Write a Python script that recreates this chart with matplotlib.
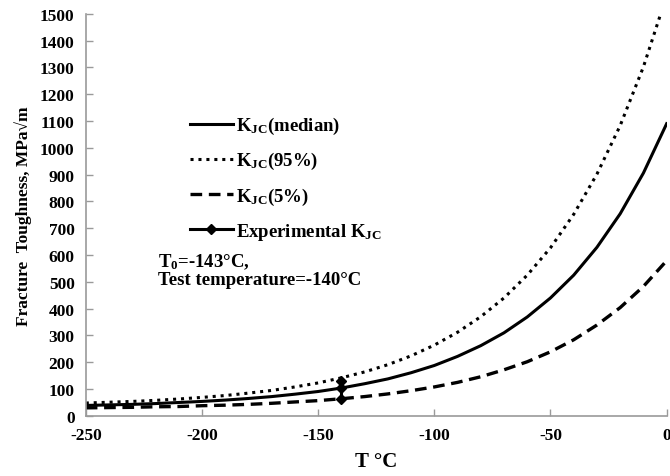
import matplotlib.pyplot as plt

plt.rcParams['font.family'] = ['Liberation Serif', 'DejaVu Serif']
plt.rcParams['font.weight'] = 'bold'
plt.rcParams['axes.unicode_minus'] = False
plt.rcParams['mathtext.fontset'] = 'custom'
plt.rcParams['mathtext.rm'] = 'Liberation Serif:bold'
plt.rcParams['mathtext.bf'] = 'Liberation Serif:bold'
plt.rcParams['mathtext.it'] = 'Liberation Serif:bold'

# temperatures (deg C) and values
temp = [-250, -240, -230, -220, -210, -200, -190, -180, -170, -160, -150, -140, -130,
        -120, -110, -100, -90, -80, -70, -60, -50, -40, -30, -20, -10, 0]
k_median = [39, 41, 43, 46, 50, 54, 59, 65, 72, 81, 91, 104, 120,
            138, 161, 188, 222, 262, 310, 369, 440, 525, 629, 754, 906, 1090]
k_95 = [48, 51, 54, 58, 63, 69, 76, 85, 95, 108, 123, 142, 164,
        191, 224, 264, 312, 370, 440, 525, 627, 752, 902, 1083, 1302, 1568]
k_5 = [30, 31, 32, 34, 35, 38, 40, 43, 47, 52, 57, 64, 72,
       82, 94, 108, 125, 146, 172, 202, 239, 284, 339, 404, 483, 579]

exp_temp = [-140, -140, -140]
exp_k = [63, 103, 130]

fig = plt.figure(figsize=(6.7, 4.77), dpi=100)
ax = fig.add_axes([0.128, 0.126, 0.867, 0.843])

ax.plot(temp, k_median, color='black', linewidth=2.2, label=r'K$_{\mathbf{JC}}$(median)')
ax.plot(temp, k_95, color='black', linewidth=2.2, linestyle=(0, (1, 1.6)),
        label=r'K$_{\mathbf{JC}}$(95%)')
ax.plot(temp, k_5, color='black', linewidth=2.4, linestyle=(0, (3.5, 2)),
        label=r'K$_{\mathbf{JC}}$(5%)')
ax.plot(exp_temp, exp_k, color='black', linewidth=2.2, marker='D', markersize=5,
        label=r'Experimental K$_{\mathbf{JC}}$')

ax.set_xlim(-250, 0)
ax.set_ylim(0, 1500)
ax.set_xticks(range(-250, 1, 50))
ax.set_yticks(range(0, 1501, 100))

for side in ['top', 'right']:
    ax.spines[side].set_visible(False)
for side in ['left', 'bottom']:
    ax.spines[side].set_color('#9a9a9a')
    ax.spines[side].set_linewidth(1.2)
ax.tick_params(direction='in', length=5, color='#9a9a9a', width=1,
               labelsize=12.5, pad=8)
for lab in ax.get_xticklabels() + ax.get_yticklabels():
    lab.set_fontweight('bold')

ax.set_xlabel('T °C', fontsize=15, fontweight='bold', labelpad=6)
ax.set_ylabel('Fracture  Toughness, MPa√m', fontsize=12.5, fontweight='bold',
              labelpad=6)

ax.legend(loc='upper left', bbox_to_anchor=(0.15, 0.79), frameon=False,
          handlelength=2.3, handletextpad=0.15,
          labelspacing=0.75, numpoints=1, prop={'weight': 'bold', 'size': 13.5})

ax.text(0.125, 0.41, 'T$_0$=-143°C,\nTest temperature=-140°C',
        transform=ax.transAxes, fontsize=13.5, fontweight='bold',
        va='top', ha='left', linespacing=1.05)

fig.savefig('out.png', dpi=100)
